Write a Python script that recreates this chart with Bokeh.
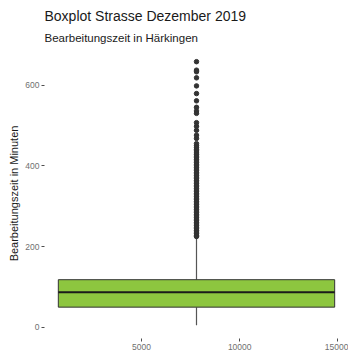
from bokeh.plotting import figure
from bokeh.models import Title, FixedTicker, Range1d
from bokeh.embed import file_html
from bokeh.resources import INLINE

# --- data ---
box_center = [7800]
box_width = [14070]
q1 = [50]
median = [87]
q3 = [118]
whisker_low = [5]
whisker_high = [221]
outliers = [658, 637, 633, 618, 598, 579, 561, 545, 536, 530, 507, 498, 488,
            476, 468, 455, 450, 446, 441, 437, 432, 428, 424, 420, 416, 412,
            408, 404, 400, 396, 392, 388, 384, 380, 376, 372, 368, 364, 360,
            356, 352, 348, 344, 340, 336, 332, 328, 324, 320, 316, 312, 308,
            304, 300, 296, 292, 288, 284, 280, 276, 272, 268, 264, 260, 256,
            252, 248, 244, 240, 236, 232, 228, 225]
x_ticks = [5000, 10000, 15000]
y_ticks = [0, 200, 400, 600]
title_text = "Boxplot Strasse Dezember 2019"
subtitle_text = "Bearbeitungszeit in Härkingen"
y_label = "Bearbeitungszeit in Minuten"

FONT = "Liberation Sans"

# ggplot-like 5% expansion
xl = box_center[0] - box_width[0] / 2
xr = box_center[0] + box_width[0] / 2
xpad = 0.05 * (xr - xl)
ymin = min(whisker_low + outliers)
ymax = max(whisker_high + outliers)
ypad = 0.05 * (ymax - ymin)

p = figure(width=348, height=352, output_backend="svg", toolbar_location=None,
           x_range=Range1d(xl - xpad, xr + xpad),
           y_range=Range1d(ymin - ypad, ymax + ypad),
           min_border_left=44, min_border_right=0, min_border_top=48,
           min_border_bottom=12)
p.background_fill_color = "white"
p.border_fill_color = "white"
p.outline_line_color = None
p.xgrid.grid_line_color = None
p.ygrid.grid_line_color = None

p.add_layout(Title(text=subtitle_text, text_font=FONT, text_font_size="11.5px",
                   text_font_style="normal", text_color="#1a1a1a",
                   standoff=10, offset=0), "above")
p.add_layout(Title(text=title_text, text_font=FONT, text_font_size="14px",
                   text_font_style="normal", text_color="#1a1a1a",
                   standoff=1, offset=0), "above")

# whiskers
p.segment(x0=box_center, x1=box_center, y0=q3, y1=whisker_high,
          line_color="#555555", line_width=1.2)
p.segment(x0=box_center, x1=box_center, y0=whisker_low, y1=q1,
          line_color="#555555", line_width=1.2)
# box
p.vbar(x=box_center, width=box_width, bottom=q1, top=q3,
       fill_color="#8dc63f", line_color="#333333", line_width=1)
# median
p.segment(x0=[xl], x1=[xr], y0=median, y1=median,
          line_color="#1a1a1a", line_width=2)
# outliers
p.scatter(x=box_center * len(outliers), y=outliers, size=4.5,
          fill_color="#333333", line_color="#333333")

for ax in (p.xaxis[0], p.yaxis[0]):
    ax.axis_line_color = None
    ax.major_tick_line_color = "#4d4d4d"
    ax.major_tick_in = 0
    ax.major_tick_out = 3
    ax.minor_tick_line_color = None
    ax.major_label_text_font = FONT
    ax.major_label_text_font_size = "8.5px"
    ax.major_label_text_color = "#707070"
    ax.major_label_standoff = 2

p.xaxis[0].ticker = FixedTicker(ticks=x_ticks)
p.yaxis[0].ticker = FixedTicker(ticks=y_ticks)
p.yaxis[0].axis_label = y_label
p.yaxis[0].axis_label_text_font = FONT
p.yaxis[0].axis_label_text_font_size = "11px"
p.yaxis[0].axis_label_text_font_style = "normal"
p.yaxis[0].axis_label_text_color = "#1a1a1a"
p.yaxis[0].axis_label_standoff = 2

open("out.html", "w").write(file_html(p, INLINE))
